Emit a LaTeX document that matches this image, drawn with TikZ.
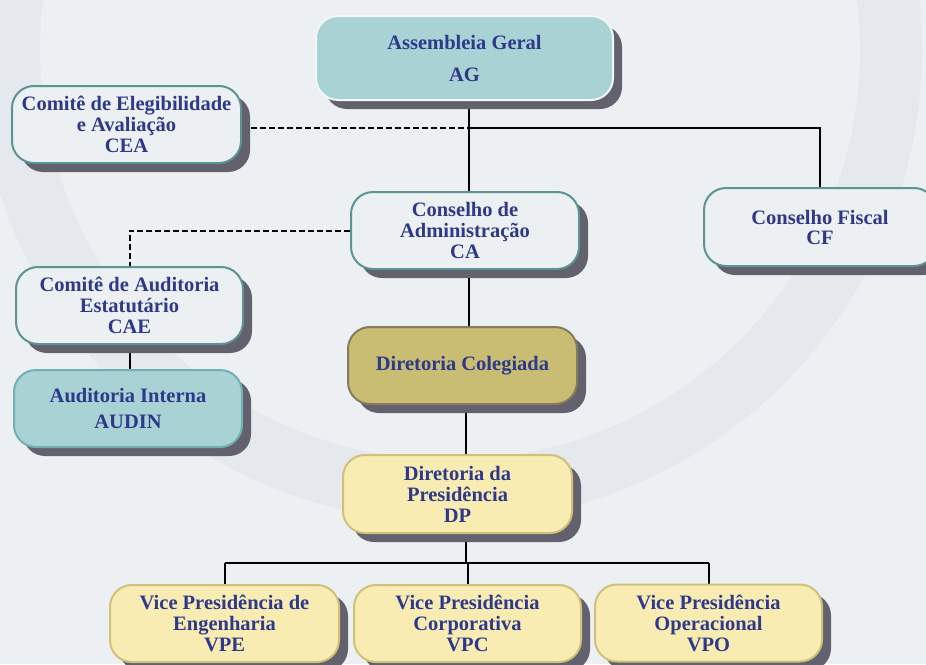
\documentclass[tikz,border=0pt]{standalone}
\usepackage{fontspec}
\setmainfont{Liberation Serif}
\usetikzlibrary{shadows,backgrounds}
\pgfdeclarelayer{paper}
\pgfsetlayers{paper,background,main}
\definecolor{paperc}{RGB}{237,240,243}
\definecolor{ringc}{RGB}{229,232,236}
\definecolor{ink}{RGB}{46,57,140}
\definecolor{shade}{RGB}{99,97,110}
\definecolor{tealfill}{RGB}{169,210,212}
\definecolor{tealline}{RGB}{90,148,148}
\definecolor{audinline}{RGB}{112,176,178}
\definecolor{olivefill}{RGB}{200,189,114}
\definecolor{oliveline}{RGB}{133,124,94}
\definecolor{creamfill}{RGB}{249,236,179}
\definecolor{creamline}{RGB}{207,192,122}
\begin{document}
\begin{tikzpicture}[x=1pt,y=-1pt,
    box/.style={rounded corners=22pt,line width=2pt,align=center,inner sep=2pt,
      font=\fontsize{20.5}{21}\selectfont\bfseries,text=ink,
      drop shadow={shadow xshift=9pt,shadow yshift=-9pt,fill=shade,opacity=1}},
    wbox/.style={box,draw=tealline,fill=paperc},
    ybox/.style={box,draw=creamline,fill=creamfill},
    sz/.style 2 args={minimum width=#1pt,minimum height=#2pt},
    link/.style={line width=2pt},
    dlink/.style={line width=2pt,dash pattern=on 6pt off 3pt}]
  \useasboundingbox (0,0) rectangle (926,664);
  %% background with the big ring
  \begin{pgfonlayer}{paper}
    \fill[paperc] (0,0) rectangle (926,664);
    \fill[ringc,even odd rule] (450,50) circle[radius=472] (450,50) circle[radius=410];
  \end{pgfonlayer}

  %% boxes
  \node[box,fill=tealfill,draw=white!85!tealfill,sz={297}{84}] (AG) at (464.5,58) {Assembleia Geral\\[11pt]AG};
  \node[wbox,sz={229}{77}] (CEA) at (126.5,124.5) {Comitê de Elegibilidade\\e Avaliação\\CEA};
  \node[wbox,sz={228}{77}] (CA) at (465,230.5) {Conselho de\\Administração\\CA};
  \node[wbox,sz={232}{78}] (CF) at (820,227) {Conselho Fiscal\\[-1pt]CF};
  \node[wbox,sz={227}{77}] (CAE) at (129.5,305.5) {Comitê de Auditoria\\Estatutário\\CAE};
  \node[box,fill=tealfill,draw=audinline,sz={228}{77}] (AUDIN) at (128,408.5) {Auditoria Interna\\[5pt]AUDIN};
  \node[box,fill=olivefill,draw=oliveline,sz={229}{77}] (DC) at (462.5,365.5) {Diretoria Colegiada};
  \node[ybox,sz={229}{78}] (DP) at (457.5,494) {Diretoria da\\Presidência\\DP};
  \node[ybox,sz={229}{77}] (VPE) at (224.5,623.5) {Vice Presidência de\\Engenharia\\VPE};
  \node[ybox,sz={227}{77}] (VPC) at (467.5,623.5) {Vice Presidência\\Corporativa\\VPC};
  \node[ybox,sz={227}{77}] (VPO) at (708.5,623) {Vice Presidência\\Operacional\\VPO};

  %% connectors, behind the boxes
  \begin{scope}[on background layer]
    \coordinate (jAG) at (469,128);
    \coordinate (jDP) at (466,563);
    \draw[link] (AG.south -| jAG) -- (CA.north -| jAG);
    \draw[link] (jAG) -| (CF.north);
    \draw[dlink] (CEA.east |- jAG) -- (jAG);
    \draw[dlink] (CA.west) -| (CAE.north);
    \draw[link] (CAE.south) -- (CAE.south |- AUDIN.north);
    \draw[link] (CA.south -| jAG) -- (DC.north -| jAG);
    \draw[link] (DC.south -| jDP) -- (DP.north -| jDP);
    \draw[link] (DP.south -| jDP) -- (jDP);
    \draw[link] (VPE.north |- jDP) -- (VPO.north |- jDP);
    \foreach \v in {VPE,VPC,VPO} \draw[link] (\v.north |- jDP) -- (\v.north);
  \end{scope}
\end{tikzpicture}
\end{document}
